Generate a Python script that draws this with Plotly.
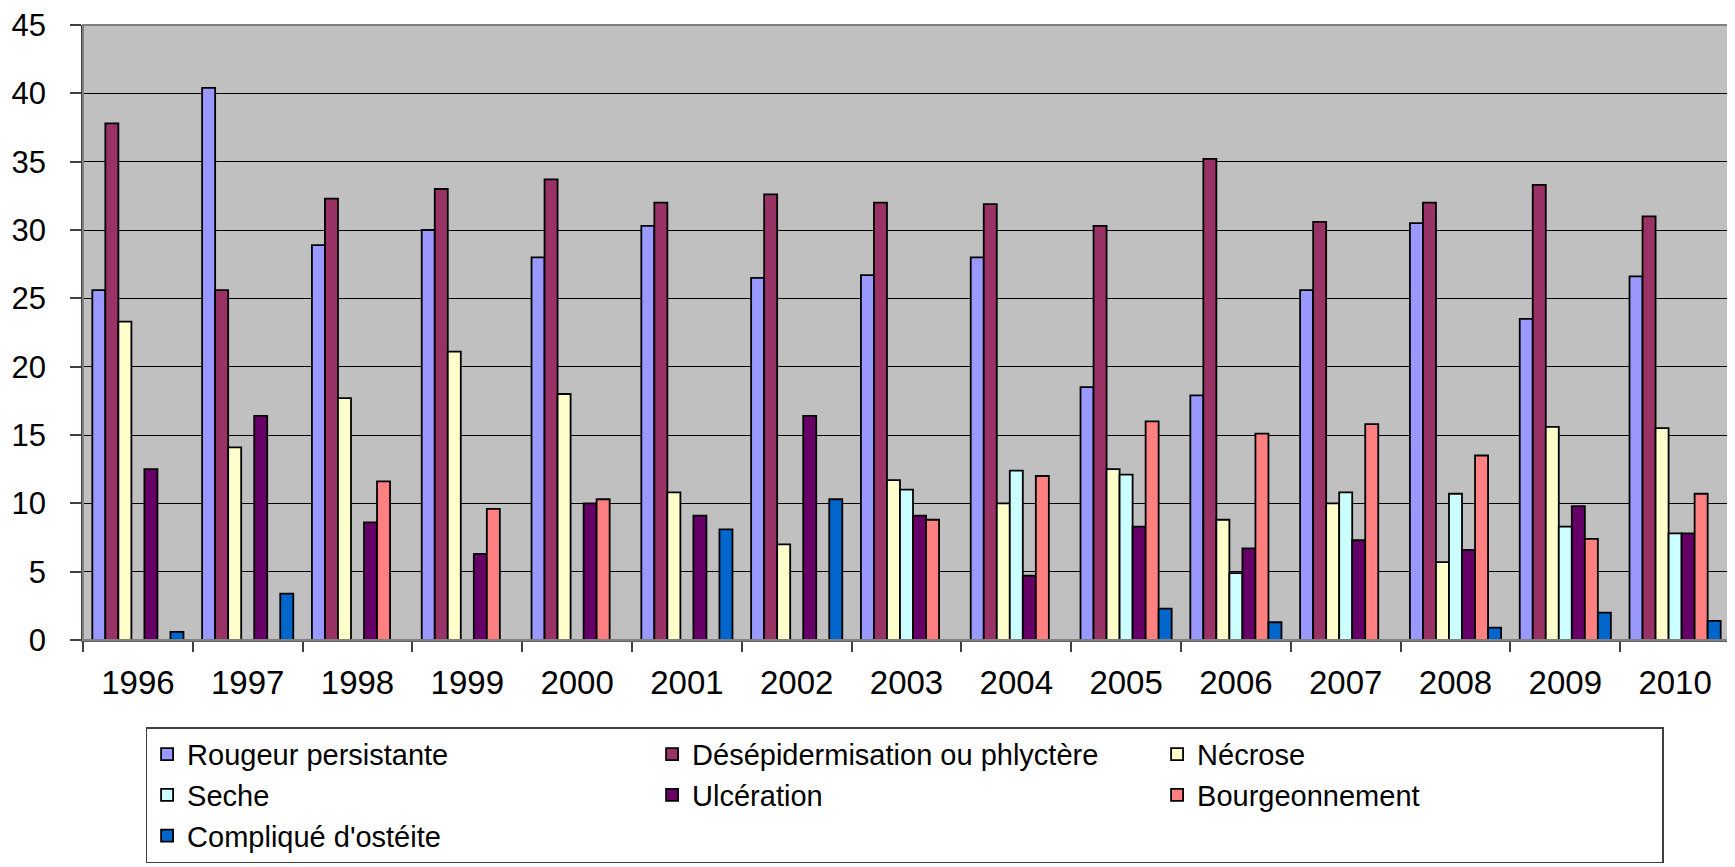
import plotly.graph_objects as go

years = ["1996", "1997", "1998", "1999", "2000", "2001", "2002", "2003",
         "2004", "2005", "2006", "2007", "2008", "2009", "2010"]

rougeur = [25.6, 40.4, 28.9, 30.0, 28.0, 30.3, 26.5, 26.7, 28.0, 18.5, 17.9, 25.6, 30.5, 23.5, 26.6]
desepid = [37.8, 25.6, 32.3, 33.0, 33.7, 32.0, 32.6, 32.0, 31.9, 30.3, 35.2, 30.6, 32.0, 33.3, 31.0]
necrose = [23.3, 14.1, 17.7, 21.1, 18.0, 10.8, 7.0, 11.7, 10.0, 12.5, 8.8, 10.0, 5.7, 15.6, 15.5]
seche = [None, None, None, None, None, None, None, 11.0, 12.4, 12.1, 4.9, 10.8, 10.7, 8.3, 7.8]
ulceration = [12.5, 16.4, 8.6, 6.3, 10.0, 9.1, 16.4, 9.1, 4.7, 8.3, 6.7, 7.3, 6.6, 9.8, 7.8]
bourgeon = [None, None, 11.6, 9.6, 10.3, None, None, 8.8, 12.0, 16.0, 15.1, 15.8, 13.5, 7.4, 10.7]
osteite = [0.6, 3.4, None, None, None, 8.1, 10.3, None, None, 2.3, 1.3, None, 0.9, 2.0, 1.4]

series_names = ["Rougeur persistante", "Désépidermisation ou phlyctère", "Nécrose",
                "Seche", "Ulcération", "Bourgeonnement", "Compliqué d'ostéite"]
series_values = [rougeur, desepid, necrose, seche, ulceration, bourgeon, osteite]
series_colors = ["#9999FF", "#993366", "#FFFFCC", "#CCFFFF", "#660066", "#FF8080", "#0066CC"]

y_ticks = [0, 5, 10, 15, 20, 25, 30, 35, 40, 45]

FONT = "Liberation Sans, Arial, sans-serif"

fig = go.Figure()
for name, vals, col in zip(series_names, series_values, series_colors):
    fig.add_trace(go.Bar(
        x=years, y=vals, name=name,
        marker=dict(color=col, line=dict(color="#000000", width=1.8)),
    ))

# the page body adds an 8px margin, so the figure is sized/offset to compensate
fig.update_layout(
    width=1727, height=859,
    margin=dict(l=75, r=5, t=17, b=227, autoexpand=False),
    paper_bgcolor="white",
    plot_bgcolor="#C0C0C0",
    barmode="group",
    bargap=0.17,
    bargroupgap=0,
    font=dict(family=FONT, color="#000000"),
    showlegend=True,
    legend=dict(
        orientation="h",
        x=0.038, xanchor="left",
        y=-0.142, yanchor="top",
        entrywidth=460, entrywidthmode="pixels",
        font=dict(family=FONT, size=29, color="#000000"),
        bordercolor="#404040", borderwidth=1.5,
        bgcolor="white",
        traceorder="normal",
    ),
)

fig.update_xaxes(
    type="category",
    tickson="boundaries",
    ticks="outside", ticklen=10, tickwidth=1.5, tickcolor="#404040",
    showline=True, linecolor="#606060", linewidth=1.5,
    showgrid=False,
    tickfont=dict(family=FONT, size=33, color="#000000"),
    ticklabelstandoff=13,
    ticklabeloverflow="allow",
    mirror=False,
)

fig.update_yaxes(
    range=[0, 45],
    tickvals=y_ticks,
    ticks="outside", ticklen=11, tickwidth=1.5, tickcolor="#404040",
    showline=True, linecolor="#404040", linewidth=1.5,
    showgrid=True, gridcolor="#000000", gridwidth=1.2,
    zeroline=False,
    tickfont=dict(family=FONT, size=31, color="#000000"),
    ticklabelstandoff=18,
    ticklabeloverflow="allow",
)

# plot-area border (top/right) in grey like the reference
fig.add_shape(type="rect", xref="paper", yref="paper", x0=0, x1=1, y0=0, y1=1,
              line=dict(color="#808080", width=2), layer="above")

fig.write_html("out.html")
